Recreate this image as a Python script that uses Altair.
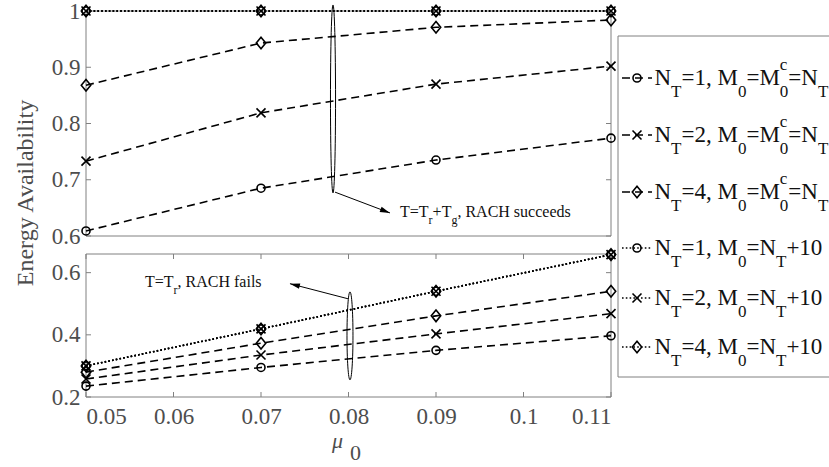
import altair as alt
import pandas as pd

FONT = "Liberation Serif"
INK = "#000000"
AXC = "#808080"
LBL = "#4d4d4d"

# ---------------- data ----------------
mu0 = [0.05, 0.07, 0.09, 0.11]
series_names = [
    "N_T=1, M_0=M_0^c=N_T",
    "N_T=2, M_0=M_0^c=N_T",
    "N_T=4, M_0=M_0^c=N_T",
    "N_T=1, M_0=N_T+10",
    "N_T=2, M_0=N_T+10",
    "N_T=4, M_0=N_T+10",
]
series_style = ["dashed", "dashed", "dashed", "dotted", "dotted", "dotted"]
series_shape = ["circle", "cross", "diamond", "circle", "cross", "diamond"]

# T = Tr + Tg, RACH succeeds (upper panel)
top_vals = [
    [0.609, 0.685, 0.735, 0.774],
    [0.733, 0.819, 0.870, 0.902],
    [0.868, 0.943, 0.971, 0.984],
    [1.000, 1.000, 1.000, 1.000],
    [1.000, 1.000, 1.000, 1.000],
    [1.000, 1.000, 1.000, 1.000],
]
# T = Tr, RACH fails (lower panel)
bottom_vals = [
    [0.235, 0.295, 0.350, 0.397],
    [0.258, 0.335, 0.403, 0.468],
    [0.280, 0.373, 0.461, 0.540],
    [0.300, 0.419, 0.540, 0.658],
    [0.300, 0.419, 0.540, 0.658],
    [0.300, 0.419, 0.540, 0.658],
]
x_ticks = [0.05, 0.06, 0.07, 0.08, 0.09, 0.1, 0.11]
top_y_ticks = [0.6, 0.7, 0.8, 0.9, 1.0]
bottom_y_ticks = [0.2, 0.4, 0.6]
x_domain = [0.05, 0.11]
top_domain = [0.6, 1.0]
bottom_domain = [0.2, 0.66]

top_note = "T=T_r+T_g, RACH succeeds"
bottom_note = "T=T_r, RACH fails"

# ---------------- layout (pixels inside the plot area) ----------------
PW, PH = 525, 386          # whole plot area (both panels)
TOP_RANGE = [225, 0]       # upper panel rows
BOT_RANGE = [386, 243]     # lower panel rows

# ---------------- helpers ----------------
W = {'N': 722, 'T': 611, 'M': 889, '=': 564, '+': 564, ',': 250, ' ': 250,
     'c': 444, 'r': 333, 'g': 500, 'R': 667, 'A': 722, 'C': 667, 'H': 722,
     's': 389, 'u': 500, 'e': 444, 'd': 500, 'f': 333, 'a': 444, 'i': 278, 'l': 278}


def cw(ch, size):
    return W.get(ch, 500) * size / 1000.0


def rich(s, size, sub_size, sub_dy, sup_dy):
    segs = []
    x = 0.0
    buf, buf_x = "", 0.0
    prev_script_x = None
    i = 0
    while i < len(s):
        ch = s[i]
        if ch in "_^" and i + 1 < len(s):
            if buf:
                segs.append(dict(t=buf, x=buf_x, dy=0.0, s=size))
                buf = ""
            c = s[i + 1]
            sx = prev_script_x if prev_script_x is not None else x
            segs.append(dict(t=c, x=sx, dy=(sub_dy if ch == "_" else -sup_dy), s=sub_size))
            x = max(x, sx + cw(c, sub_size))
            prev_script_x = sx
            i += 2
            continue
        if not buf:
            buf_x = x
        buf += ch
        x += cw(ch, size)
        prev_script_x = None
        i += 1
    if buf:
        segs.append(dict(t=buf, x=buf_x, dy=0.0, s=size))
    return segs


DASH = [8, 5]
DOT = [1.6, 2.2]
LW = 1.6
SHAPES = {
    "circle": ("circle", 64),
    "cross": ("M-1,-1L1,1M-1,1L1,-1", 81),
    "diamond": ("M0,-1.1L0.9,0L0,1.1L-0.9,0Z", 110),
}
ARROW = "M0,0L-2,-0.55L-2,0.55Z"

XAX = alt.Axis(values=x_ticks, format="~g", labelPadding=8, title=None, orient="bottom")


def ellipse_path(rx):
    return f"M0,-1A{rx},1 0 1,1 0,1A{rx},1 0 1,1 0,-1Z"


def make_panel(vals, ydom, yrange, yticks, show_x, ytitle, note):
    xs = alt.Scale(domain=x_domain, nice=False, zero=False)
    ys = alt.Scale(domain=ydom, range=yrange, nice=False, zero=False)
    ykw = dict(values=yticks, format="~g", labelPadding=6, orient="left")
    if ytitle:
        ykw.update(title=ytitle, titleX=-54, titleY=181.5, titleAngle=270,
                   titleBaseline="alphabetic", titleAlign="center")
    else:
        ykw.update(title=None)
    yax = alt.Axis(**ykw)

    def X(f="x"):
        return alt.X(f"{f}:Q", scale=xs, axis=XAX)

    def Y(f="y"):
        return alt.Y(f"{f}:Q", scale=ys, axis=yax)

    rows = []
    for si, name in enumerate(series_names):
        for xv, yv in zip(mu0, vals[si]):
            rows.append(dict(x=xv, y=yv, series=name, style=series_style[si], shape=series_shape[si]))
    df = pd.DataFrame(rows)

    layers = []
    # panel frame
    frame = pd.DataFrame([{"x": x_domain[0], "x2": x_domain[1], "y": ydom[0], "y2": ydom[1]}])
    layers.append(alt.Chart(frame).mark_rect(fill="transparent", stroke=AXC, strokeWidth=1).encode(
        x=X(), y=Y(), x2="x2:Q", y2="y2:Q"))
    # inward ticks
    left = pd.DataFrame({"x": [x_domain[0]] * len(yticks), "y": yticks})
    right = pd.DataFrame({"x": [x_domain[1]] * len(yticks), "y": yticks})
    layers.append(alt.Chart(left).mark_tick(orient="horizontal", size=5, thickness=1, color=AXC,
                                            xOffset=2.5, opacity=1).encode(x=X(), y=Y()))
    layers.append(alt.Chart(right).mark_tick(orient="horizontal", size=5, thickness=1, color=AXC,
                                             xOffset=-2.5, opacity=1).encode(x=X(), y=Y()))
    if show_x:
        bot = pd.DataFrame({"x": x_ticks, "y": [ydom[0]] * len(x_ticks)})
        topt = pd.DataFrame({"x": x_ticks, "y": [ydom[1]] * len(x_ticks)})
        layers.append(alt.Chart(bot).mark_tick(orient="vertical", size=5, thickness=1, color=AXC,
                                               yOffset=-2.5, opacity=1).encode(x=X(), y=Y()))
        layers.append(alt.Chart(topt).mark_tick(orient="vertical", size=5, thickness=1, color=AXC,
                                                yOffset=2.5, opacity=1).encode(x=X(), y=Y()))

    for style, dash in (("dashed", DASH), ("dotted", DOT)):
        layers.append(alt.Chart(df[df["style"] == style]).mark_line(
            color=INK, strokeWidth=LW, strokeDash=dash).encode(
            x=X(), y=Y(), detail="series:N"))
    for shp, (path, sz) in SHAPES.items():
        layers.append(alt.Chart(df[df["shape"] == shp]).mark_point(
            shape=path, size=sz, filled=False, color=INK, strokeWidth=LW, opacity=1).encode(
            x=X(), y=Y()))

    # annotation: ellipse, arrow, text
    e = note["ellipse"]
    layers.append(alt.Chart(pd.DataFrame([{"x": e[0], "y": e[1]}])).mark_point(
        shape=ellipse_path(e[3]), size=e[2], filled=False, color=INK, strokeWidth=1, opacity=1).encode(
        x=X(), y=Y()))
    a = note["arrow"]
    layers.append(alt.Chart(pd.DataFrame([{"x": a[0], "y": a[1], "x2": a[2], "y2": a[3]}])).mark_rule(
        color=INK, strokeWidth=1).encode(x=X(), y=Y(), x2="x2:Q", y2="y2:Q"))
    layers.append(alt.Chart(pd.DataFrame([{"x": a[2], "y": a[3]}])).mark_point(
        shape=ARROW, size=100, filled=True, color=INK, strokeWidth=0, opacity=1, angle=a[4]).encode(
        x=X(), y=Y()))
    t = note["text"]
    anchor = pd.DataFrame([{"x": t[0], "y": t[1]}])
    for seg in rich(t[2], 16, 12, 7, 7):
        layers.append(alt.Chart(anchor).mark_text(
            align="left", baseline="alphabetic", dx=seg["x"], dy=seg["dy"], fontSize=seg["s"],
            font=FONT, color="#111111", text=seg["t"]).encode(x=X(), y=Y()))

    if show_x:
        tdf = pd.DataFrame([{"x": 0.08}])
        layers.append(alt.Chart(tdf).mark_text(
            align="left", baseline="alphabetic", dx=-16.5, fontSize=22, fontStyle="italic",
            font=FONT, color=LBL, text="μ").encode(x=X(), y=alt.value(437)))
        layers.append(alt.Chart(tdf).mark_text(
            align="left", baseline="alphabetic", dx=1.5, fontSize=22,
            font=FONT, color=LBL, text="0").encode(x=X(), y=alt.value(449)))
    return alt.layer(*layers)


# ---------------- legend (beside the panels) ----------------
legend_rows_y = [67, 124, 181, 237, 287, 336]
LSX = alt.Scale(domain=[0, PW], range=[0, PW], nice=False, zero=False)
LSY = alt.Scale(domain=[0, PH], range=[0, PH], nice=False, zero=False)

box = pd.DataFrame([{"lx": 532, "lx2": 770, "ly": 25, "ly2": 366}])
leg_layers = [alt.Chart(box).mark_rect(fill="white", stroke=AXC, strokeWidth=1).encode(
    x=alt.X("lx:Q", scale=LSX, axis=None), y=alt.Y("ly:Q", scale=LSY, axis=None),
    x2="lx2:Q", y2="ly2:Q")]
ldf = pd.DataFrame({"ly": legend_rows_y, "style": series_style, "shape": series_shape,
                    "lx": [536] * 6, "lx2": [566] * 6, "mx": [551] * 6})
for style, dash in (("dashed", DASH), ("dotted", DOT)):
    leg_layers.append(alt.Chart(ldf[ldf["style"] == style]).mark_rule(
        color=INK, strokeWidth=LW, strokeDash=dash).encode(
        x=alt.X("lx:Q", scale=LSX, axis=None), y=alt.Y("ly:Q", scale=LSY, axis=None), x2="lx2:Q"))
for shp, (path, sz) in SHAPES.items():
    leg_layers.append(alt.Chart(ldf[ldf["shape"] == shp]).mark_point(
        shape=path, size=sz, filled=False, color=INK, strokeWidth=LW, opacity=1).encode(
        x=alt.X("mx:Q", scale=LSX, axis=None), y=alt.Y("ly:Q", scale=LSY, axis=None)))
trows = []
for name, ry in zip(series_names, legend_rows_y):
    for seg in rich(name, 23, 17, 12, 15):
        trows.append({"lx": 568.5 + seg["x"], "ly": ry + 7 + seg["dy"], "t": seg["t"], "s": seg["s"]})
leg_layers.append(alt.Chart(pd.DataFrame(trows)).mark_text(
    align="left", baseline="alphabetic", font=FONT, color="#111111").encode(
    x=alt.X("lx:Q", scale=LSX, axis=None), y=alt.Y("ly:Q", scale=LSY, axis=None),
    text="t:N", size=alt.Size("s:Q", scale=None)))
legend_group = alt.layer(*leg_layers)

# ---------------- panels ----------------
top_notes = {
    "ellipse": (0.07823, 0.8436, 35344, 0.027),
    "arrow": (0.07846, 0.678, 0.08474, 0.641, 20.9),
    "text": (0.08589, 0.6343, top_note),
}
bottom_notes = {
    "ellipse": (0.08017, 0.3968, 7744, 0.068),
    "arrow": (0.07994, 0.516, 0.07331, 0.5645, 194.5),
    "text": (0.05674, 0.5548, bottom_note),
}

top_group = make_panel(top_vals, top_domain, TOP_RANGE, top_y_ticks, False, "Energy Availability", top_notes)
bottom_group = make_panel(bottom_vals, bottom_domain, BOT_RANGE, bottom_y_ticks, True, None, bottom_notes)

panels = alt.layer(top_group, bottom_group).resolve_scale(y="independent")

chart = alt.layer(panels, legend_group).resolve_scale(
    x="independent", y="independent"
).properties(
    width=PW, height=PH,
    autosize=alt.AutoSizeParams(type="none"),
    padding={"left": 86, "top": 11, "right": 829 - 86 - PW, "bottom": 467 - 11 - PH},
).configure(background="white").configure_view(
    stroke="transparent", strokeWidth=0
).configure_axis(
    labelFont=FONT, labelFontSize=23, labelColor=LBL,
    titleFont=FONT, titleFontSize=24, titleColor=LBL, titleFontWeight="normal",
    domain=False, ticks=False, tickSize=0, grid=False
)

chart.save("out.html", embed_options={"renderer": "svg", "actions": False})
